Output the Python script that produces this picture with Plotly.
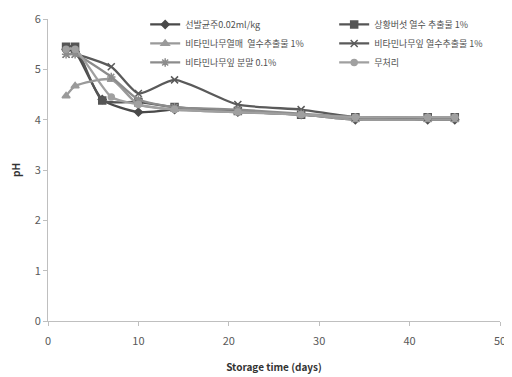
import plotly.graph_objects as go

# storage days and pH per treatment
days_a = [2, 3, 6, 10, 14, 21, 28, 34, 42, 45]
days_b = [2, 3, 7, 10, 14, 21, 28, 34, 42, 45]

ph_starter = [5.4, 5.35, 4.4, 4.15, 4.2, 4.15, 4.1, 4.0, 4.0, 4.0]
ph_mushroom = [5.45, 5.45, 4.38, 4.35, 4.25, 4.17, 4.1, 4.05, 4.05, 4.05]
ph_berry = [4.47, 4.67, 4.8, 4.3, 4.2, 4.15, 4.1, 4.0, 4.0, 4.0]
ph_leaf_ext = [5.3, 5.3, 5.05, 4.52, 4.79, 4.3, 4.2, 4.05, 4.05, 4.05]
ph_leaf_pow = [5.3, 5.3, 4.85, 4.4, 4.25, 4.2, 4.12, 4.05, 4.05, 4.05]
ph_control = [5.4, 5.4, 4.45, 4.3, 4.2, 4.15, 4.1, 4.05, 4.05, 4.05]

names = ['선발균주0.02ml/kg', '상황버섯 열수 추출물 1%',
         '비타민나무열매  열수추출물 1%', '비타민나무잎 열수추출물 1%',
         '비타민나무잎 분말 0.1%', '무처리']

series = [
    (days_a, ph_starter, '#4a4a4a', 'diamond', 6),
    (days_a, ph_mushroom, '#555555', 'square', 7),
    (days_b, ph_berry, '#9a9a9a', 'triangle-up', 7),
    (days_b, ph_leaf_ext, '#5a5a5a', 'x-thin-open', 7),
    (days_b, ph_leaf_pow, '#8c8c8c', 'asterisk-open', 7),
    (days_b, ph_control, '#a0a0a0', 'circle', 6),
]

fig = go.Figure()
for name, (x, y, col, sym, size) in zip(names, series):
    fig.add_trace(go.Scatter(
        x=x, y=y, name=name, mode='lines+markers',
        line=dict(color=col, width=2.3, shape='spline', smoothing=0.6),
        marker=dict(symbol=sym, size=size, color=col,
                    line=dict(color=col, width=1.5)),
    ))

# page body has an 8px margin, so the figure is a bit smaller than the window
fig.update_layout(
    width=504, height=369,
    margin=dict(l=40, r=12, t=11, b=56, autoexpand=False),
    paper_bgcolor='white', plot_bgcolor='white',
    font=dict(family='Noto Sans CJK KR, DejaVu Sans', size=10, color='#595959'),
    showlegend=True,
    legend=dict(
        orientation='h', x=0.215, y=1.03, xanchor='left', yanchor='top',
        entrywidth=144, entrywidthmode='pixels',
        font=dict(size=9, color='#505050'),
        bgcolor='rgba(0,0,0,0)', itemwidth=30,
    ),
    xaxis=dict(
        range=[0, 50], dtick=10, showgrid=False, zeroline=False,
        showline=True, linecolor='#bfbfbf', linewidth=1,
        ticks='outside', ticklen=4, tickcolor='#bfbfbf', automargin=False,
        ticklabelstandoff=6,
        tickfont=dict(size=11, color='#595959'),
        title=dict(text='<b>Storage time (days)</b>', font=dict(size=10, color='#333333'), standoff=16),
    ),
    yaxis=dict(
        range=[0, 6], dtick=1, showgrid=False, zeroline=False,
        showline=True, linecolor='#bfbfbf', linewidth=1,
        ticks='outside', ticklen=4, tickcolor='#bfbfbf', automargin=False,
        tickfont=dict(size=11, color='#595959'),
        title=dict(text='<b>pH</b>', font=dict(size=10, color='#333333'), standoff=22),
    ),
)

fig.write_html("out.html")
